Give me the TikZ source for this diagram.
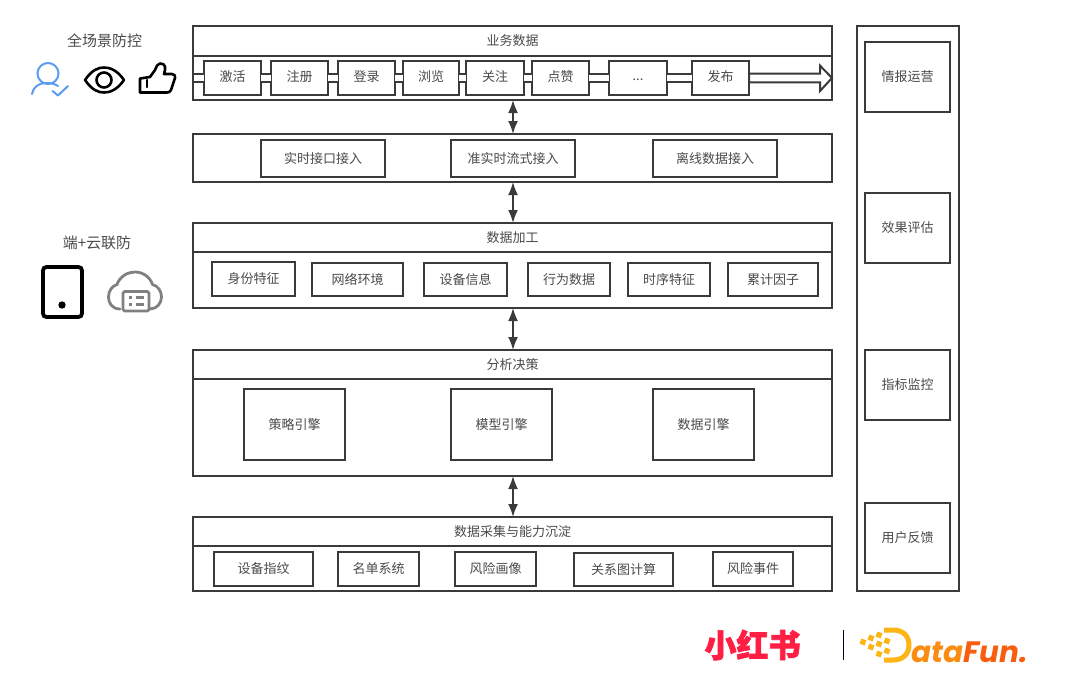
\documentclass[tikz,border=0pt]{standalone}
\usepackage{fontspec}
\setmainfont{Noto Sans CJK SC}
\newfontfamily\latinlogo{Poppins}
\newfontfamily\redlogo[FakeBold=2]{Noto Sans CJK SC}
\usetikzlibrary{arrows.meta}
\definecolor{ln}{HTML}{3A3A3A}
\definecolor{tx}{HTML}{4A4A4A}
\definecolor{bluei}{HTML}{5B9BF0}
\definecolor{grayi}{HTML}{808080}
\definecolor{redl}{HTML}{FF1F45}
\definecolor{or1}{HTML}{FDB515}
\definecolor{or2}{HTML}{FB8C12}
\definecolor{or3}{HTML}{F95D0E}
\tikzset{
  panel/.style={draw=ln,line width=2pt,fill=white,outer sep=0pt,inner sep=0pt,text=tx,font=\fontsize{13}{15}\selectfont},
  conn/.style={draw=ln,line width=2pt,double=white,double distance=6.8pt},
  biarrow/.style={draw=ln,line width=1.8pt,{Latex[length=13pt,width=10pt]}-{Latex[length=13pt,width=10pt]}},
  lab/.style={text=tx,font=\fontsize{13}{15}\selectfont,inner sep=0pt},
  headlab/.style={text=tx,font=\fontsize{15}{17}\selectfont,inner sep=0pt},
  icon/.style={draw=black,line width=2.6pt,line cap=round,line join=round}
}
% rectangle by pixel edges: name, x0, y0, x1, y1, text
\newcommand{\pbox}[6]{\node[panel,minimum width=#4pt-#2pt,minimum height=#5pt-#3pt,anchor=north west] (#1) at (#2,#3) {\raisebox{1pt}{#6}};}
\begin{document}
\begin{tikzpicture}[x=1pt,y=-1pt]
\useasboundingbox (0,0) rectangle (1080,680);
\fill[white] (0,0) rectangle (1080,680);

% layer 1
\pbox{t1}{193}{26}{832}{56}{业务数据}
\pbox{b1}{193}{56}{832}{100}{}
\coordinate (s1) at (194,78);
\pbox{a1}{204}{61}{261}{95}{}
\pbox{a2}{271}{61}{328}{95}{}
\pbox{a3}{338}{61}{395}{95}{}
\pbox{a4}{403}{61}{459}{95}{}
\pbox{a5}{466}{61}{524}{95}{}
\pbox{a6}{532}{61}{589}{95}{}
\pbox{a7}{609}{61}{667}{95}{}
\pbox{a8}{692}{61}{749}{95}{}
\draw[conn] (s1) -- (a1.west);
\draw[conn] (a1.east) -- (a2.west);
\draw[conn] (a2.east) -- (a3.west);
\draw[conn] (a3.east) -- (a4.west);
\draw[conn] (a4.east) -- (a5.west);
\draw[conn] (a5.east) -- (a6.west);
\draw[conn] (a6.east) -- (a7.west);
\draw[conn] (a7.east) -- (a8.west);
\draw[draw=ln,line width=2pt,fill=white,line join=miter] (a8.east) ++(0,-4.4) -- ++(71,0) -- ++(0,-8) -- (832,78) -- (820,91) -- ++(0,-8.6) -- ++(-71,0) -- cycle;
\node[lab] at ([yshift=1pt]a1) {激活};
\node[lab] at ([yshift=1pt]a2) {注册};
\node[lab] at ([yshift=1pt]a3) {登录};
\node[lab] at ([yshift=1pt]a4) {浏览};
\node[lab] at ([yshift=1pt]a5) {关注};
\node[lab] at ([yshift=1pt]a6) {点赞};
\node[lab] at ([yshift=-2pt]a7) {...};
\node[lab] at ([yshift=1pt]a8) {发布};

% layer 2
\pbox{b2}{193}{134}{832}{182}{}
\pbox{c1}{261}{140}{385}{177}{实时接口接入}
\pbox{c2}{451}{140}{575}{177}{准实时流式接入}
\pbox{c3}{653}{140}{777}{177}{离线数据接入}

% layer 3
\pbox{t3}{193}{223}{832}{252}{数据加工}
\pbox{b3}{193}{252}{832}{308}{}
\pbox{d1}{212}{262}{295}{296}{身份特征}
\pbox{d2}{312}{263}{403}{296}{网络环境}
\pbox{d3}{424}{263}{507}{296}{设备信息}
\pbox{d4}{528}{263}{610}{296}{行为数据}
\pbox{d5}{628}{263}{710}{296}{时序特征}
\pbox{d6}{728}{263}{818}{296}{累计因子}

% layer 4
\pbox{t4}{193}{350}{832}{379}{分析决策}
\pbox{b4}{193}{379}{832}{476}{}
\pbox{e1}{244}{389}{345}{460}{策略引擎}
\pbox{e2}{451}{389}{552}{460}{模型引擎}
\pbox{e3}{653}{389}{754}{460}{数据引擎}

% layer 5
\pbox{t5}{193}{517}{832}{546}{数据采集与能力沉淀}
\pbox{b5}{193}{546}{832}{591}{}
\pbox{f1}{214}{552}{313}{586}{设备指纹}
\pbox{f2}{338}{552}{419}{586}{名单系统}
\pbox{f3}{455}{552}{536}{586}{风险画像}
\pbox{f4}{574}{553}{673}{586}{关系图计算}
\pbox{f5}{713}{552}{793}{586}{风险事件}

% right column
\pbox{r0}{857}{26}{959}{591}{}
\pbox{r1}{865}{42}{950}{112}{情报运营}
\pbox{r2}{865}{193}{950}{263}{效果评估}
\pbox{r3}{865}{350}{950}{420}{指标监控}
\pbox{r4}{865}{503}{950}{573}{用户反馈}

% double arrows
\coordinate (ax) at (513,0);
\draw[biarrow] (b1.south -| ax) -- (b2.north -| ax);
\draw[biarrow] (b2.south -| ax) -- (t3.north -| ax);
\draw[biarrow] (b3.south -| ax) -- (t4.north -| ax);
\draw[biarrow] (b4.south -| ax) -- (t5.north -| ax);

% left labels
\node[headlab] (h1) at (104.5,41) {全场景防控};
\node[headlab] (h2) at (97,242.5) {端+云联防};

% person icon
\draw[bluei,line width=2pt,line cap=round] (48,73.5) circle (10.5);
\draw[bluei,line width=2pt,line cap=round] (32,94) .. controls (33,87) and (39,83) .. (46,83) .. controls (51,83) and (55,84) .. (58,86);
\draw[bluei,line width=2pt,line cap=round,line join=round] (52.5,91) -- (58,95.5) -- (68,86);
% eye
\draw[icon] (85,80) .. controls (92,70) and (98,67.5) .. (104,67.5) .. controls (110,67.5) and (117,70) .. (124,80) .. controls (117,90) and (110,92.5) .. (104,92.5) .. controls (98,92.5) and (92,90) .. (85,80) -- cycle;
\draw[icon] (104,80) circle (7.5);
% thumb
\draw[icon] (140,92.5) -- (140,78.5) -- (150,77) -- (155,70) .. controls (157,66) and (157,64) .. (160,63.5) .. controls (166,63.5) and (166,68) .. (164,74) -- (172,74) .. controls (175,74) and (175.5,76) .. (175,78) -- (171,90) .. controls (170,92) and (169,92.5) .. (167,92.5) -- cycle;
\draw[icon] (147,80) -- (147,87);
% tablet
\draw[draw=black,line width=3.8pt,rounded corners=3.5pt] (43,267) rectangle (82,317);
\fill[black] (62,305) circle (3.7);
% cloud
\draw[grayi,line width=2.8pt,line cap=round,line join=round] (120,309) .. controls (112,309) and (108.5,303) .. (108.5,297) .. controls (108.5,291) and (112,286) .. (117,284.5) .. controls (120,276) and (128,272) .. (135,272) .. controls (143,272) and (150,277) .. (152.5,284.5) .. controls (158,286) and (161.5,291) .. (161.5,297) .. controls (161.5,303) and (157,309) .. (150,309);
\draw[grayi,line width=2.8pt,rounded corners=1.5pt] (123,291.5) rectangle (149,311);
\draw[grayi,line width=2.4pt] (129,297.5) -- (132,297.5) (136,297.5) -- (144,297.5) (129,304.5) -- (132,304.5) (136,304.5) -- (144,304.5);

% logos
\node[text=redl,inner sep=0pt,font=\redlogo\fontsize{32}{34}\selectfont\bfseries] (lg1) at (752.5,645) {小红书};
\draw[line width=1.8pt,color=black!85!blue] (843.5,630) -- (843.5,660);
\foreach \x/\y in {863/642,871/638,879/635,871/647,879/644,887/641,879/654,887/651}
  \fill[or1,rotate around={-20:(\x,\y)}] (\x-2.7,\y-2.7) rectangle (\x+2.7,\y+2.7);
\draw[or1,line width=5pt,line join=round] (884,630) -- (893,630) .. controls (904,630) and (909,637) .. (909,645) .. controls (909,653) and (904,660) .. (893,660) -- (884,660);
\node[anchor=base west,inner sep=0pt,font=\latinlogo\fontsize{29.5}{32}\selectfont\bfseries\itshape] (lg2) at (911,662) {\textcolor{or2}{ata}\textcolor{or3}{Fun.}};
\end{tikzpicture}
\end{document}
